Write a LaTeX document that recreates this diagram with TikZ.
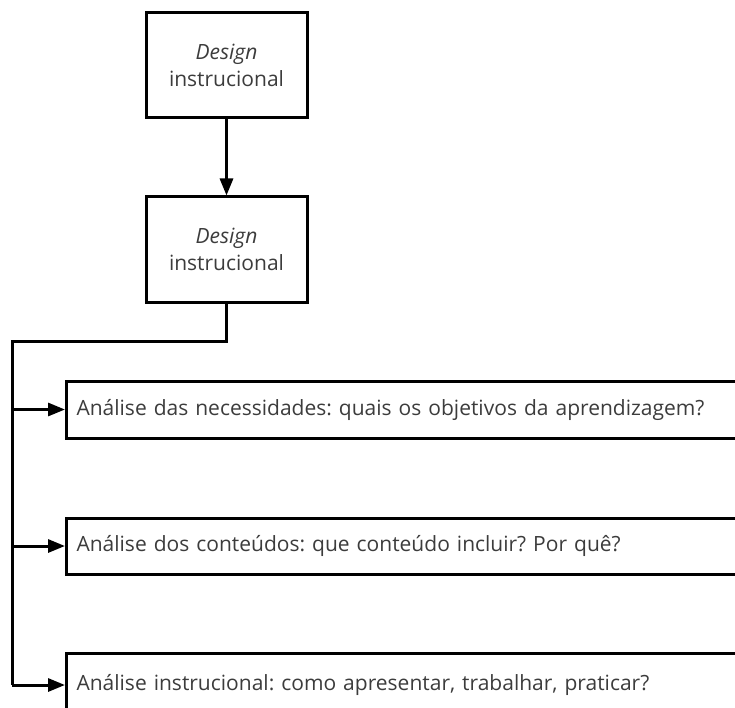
\documentclass[tikz,border=0pt]{standalone}
\usepackage{fontspec}
\setmainfont{Open Sans}
\usetikzlibrary{arrows.meta}
\definecolor{inkgray}{HTML}{3C3C3C}
\tikzset{
  every picture/.style={x=1pt,y=-1pt},
  frame/.style={draw=black,line width=3pt,line join=miter},
  headbox/.style={frame,minimum width=161pt,minimum height=105pt,
    align=center,font=\fontsize{21}{27}\selectfont\frenchspacing,text=inkgray},
  stepbox/.style={frame,anchor=west,inner xsep=10pt,text width=700pt,
    minimum height=57pt,align=left,font=\fontsize{21}{25}\selectfont\frenchspacing,text=inkgray},
  link/.style={line width=3pt,line join=miter},
  arrow/.style={link,-{Triangle[length=17pt,width=13pt]}}
}
\begin{document}
\begin{tikzpicture}
\useasboundingbox (0,0) rectangle (735,708);
\clip (0,0) rectangle (735,708);
% heading boxes
\node[headbox] (top) at (226.5,65) {\textit{Design}\\instrucional};
\node[headbox] (mid) at (226.5,249.5) {\textit{Design}\\instrucional};
% analysis steps
\node[stepbox,minimum height=57pt] (needs) at (65,409.5)
  {Análise das necessidades: quais os objetivos da aprendizagem?};
\node[stepbox,minimum height=56pt] (content) at (65,546)
  {Análise dos conteúdos: que conteúdo incluir? Por quê?};
\node[stepbox,minimum height=64pt] (instr) at (65,685)
  {Análise instrucional: como apresentar, trabalhar, praticar?};
% connectors
\coordinate (turn) at (226.5,341);
\coordinate (spine) at (12,341);
\draw[arrow] (top) -- (mid);
\draw[link] (mid.south) -- (turn) -- (spine) -- (spine |- instr.west);
\draw[arrow] (spine |- instr.west) -- (instr.west);
\draw[arrow] (spine |- needs.west) -- (needs.west);
\draw[arrow] (spine |- content.west) -- (content.west);
\end{tikzpicture}
\end{document}
